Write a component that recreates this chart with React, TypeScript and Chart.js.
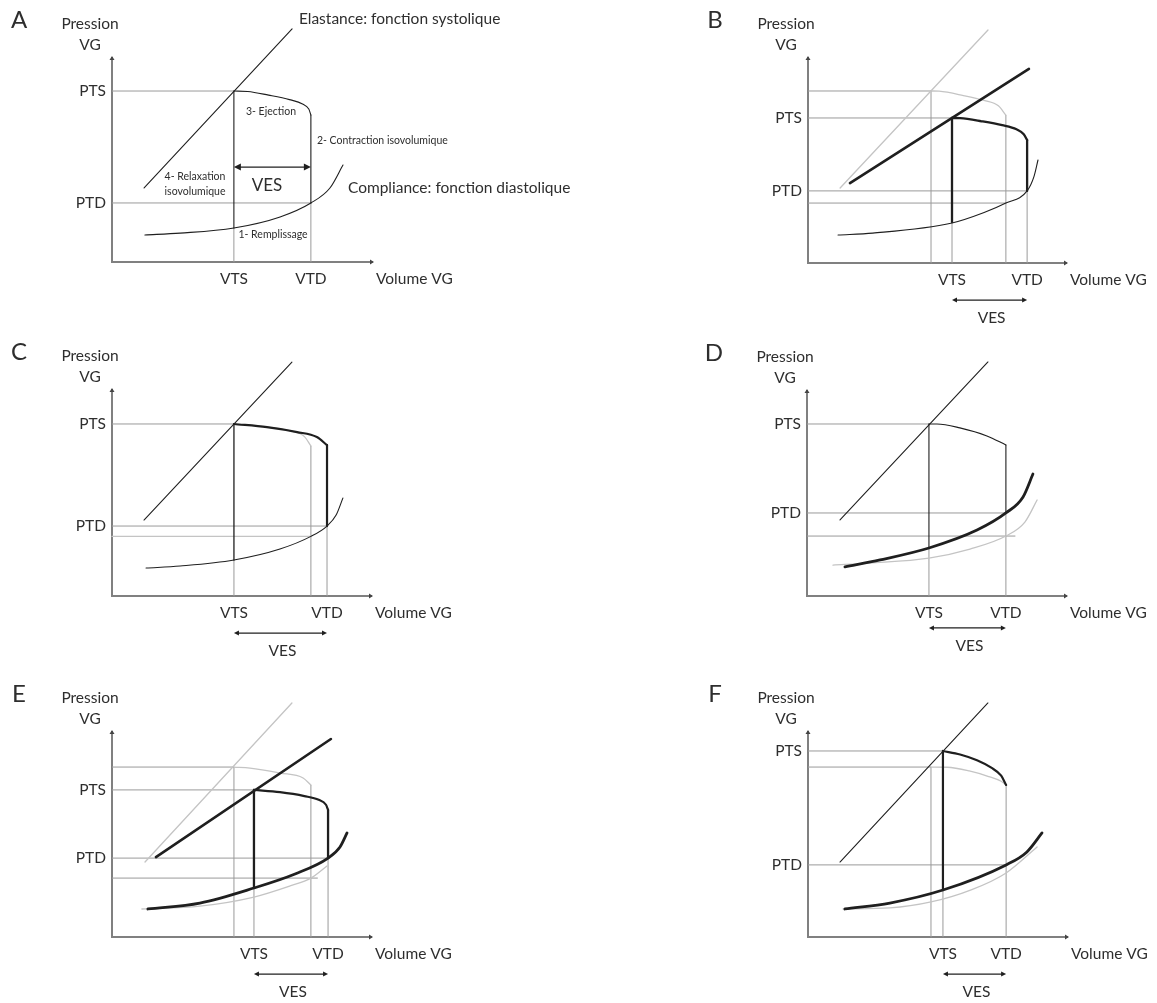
import React, { useEffect, useRef } from 'react';
import { Chart, registerables } from 'chart.js';
Chart.register(...registerables);

type Pt = [number, number];

const INK = '#1f1f1f';
const OLD = '#c4c4c4';
const GUIDE = '#9a9a9a';
const AXIS = '#808080';
const TEXT = '#2e2e2e';
const FONT = 'Lato, "Open Sans", sans-serif';

// Common labels
const Y_TICK_LABELS = ['PTS', 'PTD'];
const X_TICK_LABELS = ['VTS', 'VTD'];
const Y_TITLE = ['Pression', 'VG'];
const X_TITLE = 'Volume VG';
const VES_LABEL = 'VES';

// ---------- Panel A : normal loop ----------
const A_PTS = 83.4, A_PTD = 28.8, A_VTS = 46.7, A_VTD = 76.2, A_VTS_FOOT = 16.6, A_VES_Y = 46.3;
const A_ELASTANCE: Pt[] = [[12.3, 36.1], [69.0, 113.7]];
const A_EJECTION: Pt[] = [[46.7, 83.4], [52.0, 83.2], [60.0, 81.4], [68.0, 79.2], [73.0, 77.1], [75.4, 74.6], [76.2, 71.7]];
const A_COMPLIANCE: Pt[] = [[12.6, 13.2], [26.1, 14.1], [46.7, 16.6], [64.4, 22.0], [76.2, 28.8], [83.5, 36.1], [88.5, 47.3]];
const A_NOTES: [number, number, string, number, CanvasTextAlign][] = [
  [71.6, 118.5, 'Elastance: fonction systolique', 15.5, 'left'],
  [90.4, 36.1, 'Compliance: fonction diastolique', 15.5, 'left'],
  [60.9, 73.2, '3- Ejection', 10.5, 'center'],
  [78.5, 59.0, '2- Contraction isovolumique', 10.5, 'left'],
  [31.8, 41.5, '4- Relaxation', 10.5, 'center'],
  [31.8, 34.1, 'isovolumique', 10.5, 'center'],
  [59.4, 37.1, 'VES', 17, 'center'],
  [61.7, 13.2, '1- Remplissage', 10.5, 'center'],
];

// ---------- Panel B ----------
const B_PTS0 = 83.5, B_PTS = 70.4, B_PTD = 35.0, B_PTD0 = 29.1;
const B_VTS0 = 47.5, B_VTS = 55.6, B_VTD0 = 76.4, B_VTD = 84.6, B_VTS_FOOT = 19.9, B_VES_Y = -18.0;
const B_ELASTANCE_OLD: Pt[] = [[12.4, 36.4], [69.5, 113.1]];
const B_ELASTANCE: Pt[] = [[16.2, 38.8], [85.3, 94.2]];
const B_EJECTION_OLD: Pt[] = [[47.5, 83.5], [50.6, 83.4], [60.0, 81.3], [68.0, 78.9], [73.5, 76.3], [76.4, 71.8]];
const B_EJECTION: Pt[] = [[55.6, 70.4], [58.7, 70.3], [67.0, 68.8], [75.0, 66.9], [80.5, 64.9], [83.3, 62.5], [84.6, 59.7]];
const B_COMPLIANCE: Pt[] = [[11.6, 13.6], [25.0, 14.5], [55.6, 19.4], [68.0, 24.5], [76.4, 29.1], [84.6, 35.0], [87.3, 42.2], [88.8, 50.0]];

// ---------- Panel C ----------
const C_PTS = 83.1, C_PTD = 33.8, C_PTD0 = 28.8, C_VTS = 46.9, C_VTD0 = 76.5, C_VTD = 82.7, C_VTS_FOOT = 17.4, C_VES_Y = -17.9;
const C_ELASTANCE: Pt[] = [[12.3, 36.7], [69.2, 113.0]];
const C_EJECTION_OLD: Pt[] = [[46.9, 83.1], [59.6, 81.6], [69.0, 79.6], [74.0, 77.0], [76.5, 72.5]];
const C_EJECTION: Pt[] = [[46.9, 83.1], [59.6, 81.6], [71.2, 79.2], [78.8, 76.8], [82.7, 72.9]];
const C_COMPLIANCE: Pt[] = [[13.1, 13.5], [26.2, 14.5], [46.9, 17.4], [64.6, 22.7], [76.5, 28.8], [82.7, 33.8], [86.2, 39.1], [88.8, 47.3]];

// ---------- Panel D ----------
const D_PTS = 83.5, D_PTD = 40.3, D_PTD0 = 29.1, D_PTD0_END = 80.0, D_VTS = 46.9, D_VTD = 76.5, D_VTS_FOOT = 23.3, D_VES_Y = -15.5;
const D_ELASTANCE: Pt[] = [[12.7, 36.9], [69.6, 113.6]];
const D_EJECTION: Pt[] = [[46.9, 83.5], [50.0, 83.5], [58.8, 81.6], [69.2, 77.7], [76.5, 73.3]];
const D_COMPLIANCE_OLD: Pt[] = [[10.0, 15.0], [24.2, 16.0], [46.9, 18.4], [62.7, 22.8], [76.5, 29.1], [83.8, 35.9], [88.5, 46.6]];
const D_COMPLIANCE: Pt[] = [[14.6, 14.1], [28.1, 17.5], [46.9, 23.3], [65.4, 32.0], [76.5, 40.3], [83.1, 48.1], [86.9, 59.2]];

// ---------- Panel E ----------
const E_PTS0 = 82.5, E_PTS = 71.4, E_PTD = 38.3, E_PTD0 = 28.6, E_PTD0_END = 79.0;
const E_VTS0 = 46.9, E_VTS = 54.6, E_VTD0 = 76.5, E_VTD = 83.1, E_VTS_FOOT = 23.8, E_VES_Y = -18.0;
const E_ELASTANCE_OLD: Pt[] = [[12.7, 36.4], [69.2, 113.6]];
const E_ELASTANCE: Pt[] = [[16.9, 38.8], [84.2, 96.1]];
const E_EJECTION_OLD: Pt[] = [[46.9, 82.5], [53.1, 82.0], [64.6, 79.6], [73.5, 77.2], [76.5, 73.8]];
const E_EJECTION: Pt[] = [[54.6, 71.4], [64.6, 70.3], [74.0, 68.4], [79.5, 66.6], [82.3, 64.2], [83.1, 61.7]];
const E_COMPLIANCE_OLD: Pt[] = [[11.5, 13.6], [33.8, 15.0], [54.6, 19.4], [68.5, 24.8], [76.5, 28.6], [82.7, 34.5]];
const E_COMPLIANCE: Pt[] = [[13.8, 13.6], [33.8, 16.5], [54.6, 23.8], [70.4, 30.6], [83.1, 38.3], [87.7, 43.7], [90.4, 50.5]];

// ---------- Panel F ----------
const F_PTS = 90.3, F_PTS0 = 82.5, F_PTD = 35.0, F_VTS0 = 47.3, F_VTS = 51.9, F_VTD = 76.2, F_VTS_FOOT = 22.8, F_VES_Y = -18.0;
const F_ELASTANCE: Pt[] = [[12.3, 36.4], [69.2, 113.6]];
const F_EJECTION_OLD: Pt[] = [[47.3, 82.5], [53.5, 82.4], [62.0, 80.6], [69.5, 77.9], [74.3, 75.6], [76.2, 73.8]];
const F_EJECTION: Pt[] = [[51.9, 90.3], [58.5, 88.6], [65.0, 85.8], [70.5, 82.2], [74.3, 78.3], [76.2, 73.8]];
const F_COMPLIANCE_OLD: Pt[] = [[13.5, 13.6], [31.5, 14.1], [47.3, 17.0], [63.0, 23.0], [76.2, 31.1], [88.1, 43.7]];
const F_COMPLIANCE: Pt[] = [[14.2, 13.6], [31.5, 16.5], [51.9, 22.8], [76.2, 35.0], [84.2, 41.3], [90.0, 50.5]];

// ---------- helpers ----------
interface Line { pts: Pt[]; color: string; width: number; curve: boolean; order: number }
interface Note { x: number; y: number; text: string; size: number; align: CanvasTextAlign }
interface Ves { y: number; from: number; to: number; big: boolean }
interface PanelSpec {
  letter: string; left: number; top: number; width: number; height: number;
  axL: number; axR: number; axB: number; axT: number;
  yTicks: [number, string][]; xTicks: [number, string][];
  lines: Line[]; notes: Note[]; ves: Ves;
}
const CURVE = true;
const last = (a: Pt[]) => a[a.length - 1][1];
const H = (y: number, x0: number, x1: number): Pt[] => [[x0, y], [x1, y]];
const V = (x: number, y0: number, y1: number): Pt[] => [[x, y0], [x, y1]];
const ink = (pts: Pt[], width = 1.1, curve = false): Line => ({ pts, color: INK, width, curve, order: 1 });
const bold = (pts: Pt[], width = 2.3, curve = false): Line => ({ pts, color: INK, width, curve, order: 0 });
const old = (pts: Pt[], curve = false): Line => ({ pts, color: OLD, width: 1.3, curve, order: 2 });
const guide = (pts: Pt[]): Line => ({ pts, color: GUIDE, width: 1, curve: false, order: 3 });

const PANELS: PanelSpec[] = [
  {
    letter: 'A', left: 0, top: 0, width: 578, height: 330, axL: 112, axR: 373, axB: 262, axT: 57,
    yTicks: [[A_PTS, Y_TICK_LABELS[0]], [A_PTD, Y_TICK_LABELS[1]]],
    xTicks: [[A_VTS, X_TICK_LABELS[0]], [A_VTD, X_TICK_LABELS[1]]],
    lines: [
      guide(H(A_PTS, 0, A_VTS)), guide(H(A_PTD, 0, A_VTD)),
      guide(V(A_VTS, 0, A_VTS_FOOT)), guide(V(A_VTD, 0, A_PTD)),
      ink(A_ELASTANCE), ink(V(A_VTS, A_VTS_FOOT, A_PTS)),
      ink(A_EJECTION, 1.1, CURVE), ink(V(A_VTD, last(A_EJECTION), A_PTD)),
      ink(A_COMPLIANCE, 1.1, CURVE),
    ],
    notes: A_NOTES.map(([x, y, text, size, align]) => ({ x, y, text, size, align })),
    ves: { y: A_VES_Y, from: A_VTS, to: A_VTD, big: true },
  },
  {
    letter: 'B', left: 578, top: 0, width: 579, height: 330, axL: 808, axR: 1067, axB: 263, axT: 57,
    yTicks: [[B_PTS, Y_TICK_LABELS[0]], [B_PTD, Y_TICK_LABELS[1]]],
    xTicks: [[B_VTS, X_TICK_LABELS[0]], [B_VTD, X_TICK_LABELS[1]]],
    lines: [
      guide(H(B_PTS0, 0, B_VTS0)), guide(H(B_PTS, 0, B_VTS)), guide(H(B_PTD, 0, B_VTD)), guide(H(B_PTD0, 0, B_VTD0)),
      guide(V(B_VTS0, 0, B_PTS0)), guide(V(B_VTS, 0, B_VTS_FOOT)), guide(V(B_VTD0, 0, last(B_EJECTION_OLD))), guide(V(B_VTD, 0, B_PTD)),
      old(B_ELASTANCE_OLD), old(B_EJECTION_OLD, CURVE),
      bold(B_ELASTANCE, 2.6), bold(V(B_VTS, B_VTS_FOOT, B_PTS)), bold(B_EJECTION, 2.3, CURVE), bold(V(B_VTD, last(B_EJECTION), B_PTD)),
      ink(B_COMPLIANCE, 1.1, CURVE),
    ],
    notes: [],
    ves: { y: B_VES_Y, from: B_VTS, to: B_VTD, big: false },
  },
  {
    letter: 'C', left: 0, top: 330, width: 578, height: 330, axL: 112, axR: 372, axB: 596, axT: 389,
    yTicks: [[C_PTS, Y_TICK_LABELS[0]], [C_PTD, Y_TICK_LABELS[1]]],
    xTicks: [[C_VTS, X_TICK_LABELS[0]], [C_VTD, X_TICK_LABELS[1]]],
    lines: [
      guide(H(C_PTS, 0, C_VTS)), guide(H(C_PTD, 0, C_VTD)), old(H(C_PTD0, 0, C_VTD0)),
      guide(V(C_VTS, 0, C_VTS_FOOT)), guide(V(C_VTD0, 0, last(C_EJECTION_OLD))), guide(V(C_VTD, 0, C_PTD)),
      old(C_EJECTION_OLD, CURVE),
      ink(C_ELASTANCE), ink(V(C_VTS, C_VTS_FOOT, C_PTS), 1.3),
      bold(C_EJECTION, 2.2, CURVE), bold(V(C_VTD, last(C_EJECTION), C_PTD), 2.2),
      ink(C_COMPLIANCE, 1.1, CURVE),
    ],
    notes: [],
    ves: { y: C_VES_Y, from: C_VTS, to: C_VTD, big: false },
  },
  {
    letter: 'D', left: 578, top: 330, width: 579, height: 330, axL: 807, axR: 1067, axB: 596, axT: 390,
    yTicks: [[D_PTS, Y_TICK_LABELS[0]], [D_PTD, Y_TICK_LABELS[1]]],
    xTicks: [[D_VTS, X_TICK_LABELS[0]], [D_VTD, X_TICK_LABELS[1]]],
    lines: [
      guide(H(D_PTS, 0, D_VTS)), guide(H(D_PTD, 0, D_VTD)), guide(H(D_PTD0, 0, D_PTD0_END)),
      guide(V(D_VTS, 0, D_VTS_FOOT)), guide(V(D_VTD, 0, D_PTD)),
      old(D_COMPLIANCE_OLD, CURVE),
      ink(D_ELASTANCE), ink(V(D_VTS, D_VTS_FOOT, D_PTS)),
      ink(D_EJECTION, 1.1, CURVE), ink(V(D_VTD, last(D_EJECTION), D_PTD)),
      bold(D_COMPLIANCE, 2.8, CURVE),
    ],
    notes: [],
    ves: { y: D_VES_Y, from: D_VTS, to: D_VTD, big: false },
  },
  {
    letter: 'E', left: 0, top: 660, width: 578, height: 343, axL: 112, axR: 372, axB: 937, axT: 731,
    yTicks: [[E_PTS, Y_TICK_LABELS[0]], [E_PTD, Y_TICK_LABELS[1]]],
    xTicks: [[E_VTS, X_TICK_LABELS[0]], [E_VTD, X_TICK_LABELS[1]]],
    lines: [
      guide(H(E_PTS0, 0, E_VTS0)), guide(H(E_PTS, 0, E_VTS)), guide(H(E_PTD, 0, E_VTD)), guide(H(E_PTD0, 0, E_PTD0_END)),
      guide(V(E_VTS0, 0, E_PTS0)), guide(V(E_VTS, 0, E_VTS_FOOT)), guide(V(E_VTD0, 0, last(E_EJECTION_OLD))), guide(V(E_VTD, 0, E_PTD)),
      old(E_ELASTANCE_OLD), old(E_EJECTION_OLD, CURVE), old(E_COMPLIANCE_OLD, CURVE),
      bold(E_ELASTANCE, 2.6), bold(V(E_VTS, E_VTS_FOOT, E_PTS)), bold(E_EJECTION, 2.2, CURVE), bold(V(E_VTD, last(E_EJECTION), E_PTD)),
      bold(E_COMPLIANCE, 2.8, CURVE),
    ],
    notes: [],
    ves: { y: E_VES_Y, from: E_VTS, to: E_VTD, big: false },
  },
  {
    letter: 'F', left: 578, top: 660, width: 579, height: 343, axL: 808, axR: 1068, axB: 937, axT: 731,
    yTicks: [[F_PTS, Y_TICK_LABELS[0]], [F_PTD, Y_TICK_LABELS[1]]],
    xTicks: [[F_VTS, X_TICK_LABELS[0]], [F_VTD, X_TICK_LABELS[1]]],
    lines: [
      guide(H(F_PTS, 0, F_VTS)), guide(H(F_PTS0, 0, F_VTS0)), guide(H(F_PTD, 0, F_VTD)),
      guide(V(F_VTS0, 0, F_PTS0)), guide(V(F_VTS, 0, F_VTS_FOOT)), guide(V(F_VTD, 0, last(F_EJECTION))),
      old(F_EJECTION_OLD, CURVE), old(F_COMPLIANCE_OLD, CURVE),
      ink(F_ELASTANCE),
      bold(V(F_VTS, F_VTS_FOOT, F_PTS), 2.2), bold(F_EJECTION, 2.2, CURVE),
      bold(F_COMPLIANCE, 2.8, CURVE),
    ],
    notes: [],
    ves: { y: F_VES_Y, from: F_VTS, to: F_VTD, big: false },
  },
];

function arrowHead(ctx: CanvasRenderingContext2D, x: number, y: number, dx: number, dy: number, len: number, half: number) {
  const nx = -dy, ny = dx;
  ctx.beginPath();
  ctx.moveTo(x, y);
  ctx.lineTo(x - dx * len + nx * half, y - dy * len + ny * half);
  ctx.lineTo(x - dx * len - nx * half, y - dy * len - ny * half);
  ctx.closePath();
  ctx.fill();
}

const LABEL_SIZE = 15.5;

function makeOverlay(spec: PanelSpec) {
  return {
    id: 'overlay' + spec.letter,
    beforeDatasetsDraw(chart: any) {
      const ctx: CanvasRenderingContext2D = chart.ctx;
      const xs = chart.scales.x, ys = chart.scales.y;
      const x0 = xs.getPixelForValue(0), x1 = xs.getPixelForValue(100);
      const y0 = ys.getPixelForValue(0), y1 = ys.getPixelForValue(100);
      ctx.save();
      ctx.strokeStyle = AXIS;
      ctx.lineWidth = 2;
      ctx.beginPath();
      ctx.moveTo(x0, y0); ctx.lineTo(x1, y0);
      ctx.moveTo(x0, y0 + 1); ctx.lineTo(x0, y1);
      ctx.stroke();
      ctx.fillStyle = '#444';
      arrowHead(ctx, x1 + 1, y0, 1, 0, 4, 2.5);
      arrowHead(ctx, x0, y1 - 1, 0, -1, 4, 2.5);
      ctx.restore();
    },
    afterDatasetsDraw(chart: any) {
      const ctx: CanvasRenderingContext2D = chart.ctx;
      const xs = chart.scales.x, ys = chart.scales.y;
      const x0 = xs.getPixelForValue(0), x1 = xs.getPixelForValue(100);
      const y0 = ys.getPixelForValue(0), y1 = ys.getPixelForValue(100);
      ctx.save();
      ctx.fillStyle = TEXT;
      ctx.textBaseline = 'middle';
      // panel letter
      ctx.font = `24px ${FONT}`;
      ctx.textAlign = 'center';
      ctx.fillText(spec.letter, x0 - 93, y1 - 37);
      // axis titles
      ctx.font = `${LABEL_SIZE}px ${FONT}`;
      ctx.fillText(Y_TITLE[0], x0 - 22, y1 - 33);
      ctx.fillText(Y_TITLE[1], x0 - 22, y1 - 12);
      ctx.textAlign = 'left';
      ctx.fillText(X_TITLE, x1 + 3, y0 + 17);
      // ticks
      ctx.textAlign = 'right';
      for (const [v, t] of spec.yTicks) ctx.fillText(t, x0 - 6, ys.getPixelForValue(v));
      ctx.textAlign = 'center';
      for (const [v, t] of spec.xTicks) ctx.fillText(t, xs.getPixelForValue(v), y0 + 17);
      // notes
      for (const n of spec.notes) {
        ctx.font = `${n.size}px ${FONT}`;
        ctx.textAlign = n.align;
        ctx.fillText(n.text, xs.getPixelForValue(n.x), ys.getPixelForValue(n.y));
      }
      // VES arrow
      const v = spec.ves;
      const ay = ys.getPixelForValue(v.y);
      const ax0 = xs.getPixelForValue(v.from), ax1 = xs.getPixelForValue(v.to);
      const len = v.big ? 7 : 5, half = v.big ? 3.5 : 2.5;
      ctx.strokeStyle = INK;
      ctx.fillStyle = INK;
      ctx.lineWidth = 1.2;
      ctx.beginPath();
      ctx.moveTo(ax0 + 2, ay); ctx.lineTo(ax1 - 2, ay);
      ctx.stroke();
      arrowHead(ctx, ax0, ay, -1, 0, len, half);
      arrowHead(ctx, ax1, ay, 1, 0, len, half);
      if (!v.big) {
        ctx.fillStyle = TEXT;
        ctx.font = `${LABEL_SIZE}px ${FONT}`;
        ctx.textAlign = 'center';
        ctx.fillText(VES_LABEL, (ax0 + ax1) / 2 + 2, ay + 18);
      }
      ctx.restore();
    },
  };
}

function Panel({ spec }: { spec: PanelSpec }) {
  const ref = useRef<HTMLCanvasElement | null>(null);
  useEffect(() => {
    if (!ref.current) return;
    const datasets = spec.lines.map((l) => ({
      data: l.pts.map(([x, y]) => ({ x, y })),
      showLine: true,
      borderColor: l.color,
      backgroundColor: l.color,
      borderWidth: l.width,
      tension: l.curve ? 0.4 : 0,
      cubicInterpolationMode: (l.curve ? 'monotone' : 'default') as any,
      pointRadius: 0,
      pointHoverRadius: 0,
      fill: false,
      clip: false as any,
      order: l.order,
      borderCapStyle: 'round' as const,
    }));
    const chart = new Chart(ref.current, {
      type: 'scatter',
      data: { datasets },
      options: {
        animation: false,
        responsive: false,
        events: [],
        layout: {
          padding: {
            left: spec.axL - spec.left,
            right: spec.left + spec.width - spec.axR,
            top: spec.axT - spec.top,
            bottom: spec.top + spec.height - spec.axB,
          },
        },
        scales: {
          x: { type: 'linear', min: 0, max: 100, display: false },
          y: { type: 'linear', min: 0, max: 100, display: false },
        },
        plugins: { legend: { display: false }, tooltip: { enabled: false } },
      },
      plugins: [makeOverlay(spec)],
    });
    return () => chart.destroy();
  }, [spec]);
  return (
    <canvas
      ref={ref}
      width={spec.width}
      height={spec.height}
      style={{ position: 'absolute', left: spec.left, top: spec.top, width: spec.width, height: spec.height }}
    />
  );
}

export default function App() {
  return (
    <div style={{ position: 'absolute', left: 0, top: 0, width: 1157, height: 1003, background: '#fff' }}>
      {PANELS.map((p) => (
        <Panel key={p.letter} spec={p} />
      ))}
    </div>
  );
}
